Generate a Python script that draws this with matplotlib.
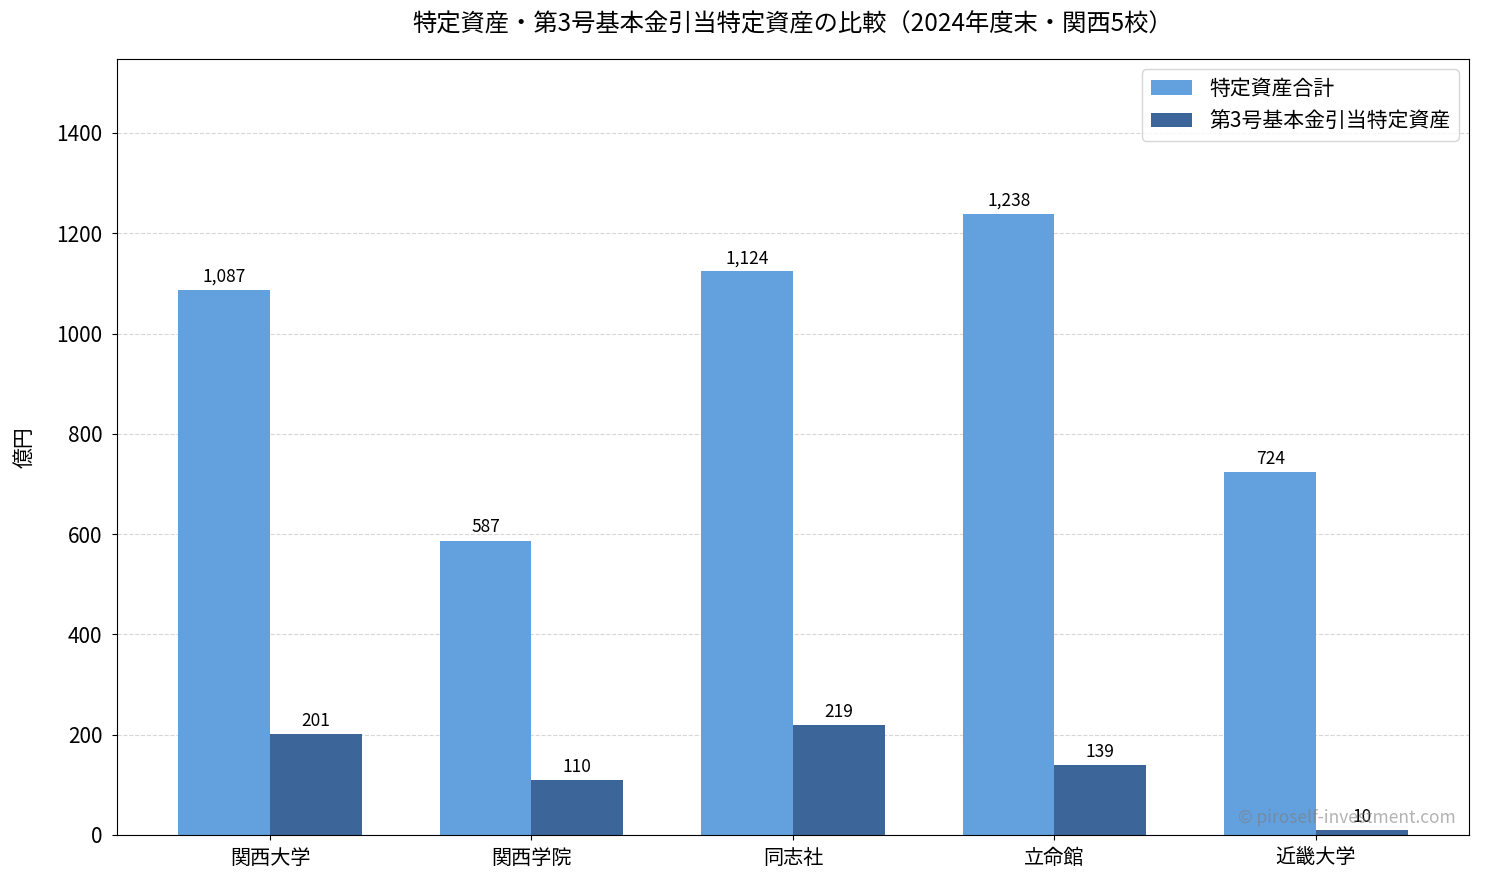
import matplotlib
matplotlib.use('Agg')
import matplotlib.pyplot as plt
import numpy as np

plt.rcParams['font.family'] = ['Noto Sans CJK JP', 'DejaVu Sans']

# Data (億円)
schools = ['関西大学', '関西学院', '同志社', '立命館', '近畿大学']
total_assets = [1087, 587, 1124, 1238, 724]
fund3_assets = [201, 110, 219, 139, 10]

labels = ['特定資産合計', '第3号基本金引当特定資産']
colors = ['#62a0de', '#3c6699']
bar_width = 0.35

fig, ax = plt.subplots(figsize=(14.85, 8.85), dpi=100)
fig.subplots_adjust(left=0.0788, right=0.9892, top=0.9333, bottom=0.0565)

x = np.arange(len(schools))
b1 = ax.bar(x - bar_width / 2, total_assets, bar_width, label=labels[0], color=colors[0])
b2 = ax.bar(x + bar_width / 2, fund3_assets, bar_width, label=labels[1], color=colors[1])

for bars in (b1, b2):
    for rect in bars:
        h = rect.get_height()
        ax.annotate(f'{h:,.0f}', xy=(rect.get_x() + rect.get_width() / 2, h),
                    xytext=(0, 3), textcoords='offset points',
                    ha='center', va='bottom', fontsize=12.5)

ax.set_xticks(x)
ax.set_xticklabels(schools, fontsize=14.5)
ax.tick_params(axis='x', pad=6)
ax.tick_params(axis='y', labelsize=15, pad=7)
ax.set_ylabel('億円', fontsize=15)
ax.yaxis.set_label_coords(-0.06, 0.5)
ax.set_ylim(0, max(total_assets) * 1.25)
ax.set_title('特定資産・第3号基本金引当特定資産の比較（2024年度末・関西5校）', fontsize=17.5, pad=20)
ax.grid(axis='y', linestyle='--', alpha=0.5)
ax.set_axisbelow(True)
ax.legend(loc='upper right', fontsize=15)

ax.text(0.99, 0.01, '© piroself-investment.com', transform=ax.transAxes,
        ha='right', va='bottom', fontsize=12.5, color='gray', alpha=0.6)

plt.savefig('out.png', dpi=100)
